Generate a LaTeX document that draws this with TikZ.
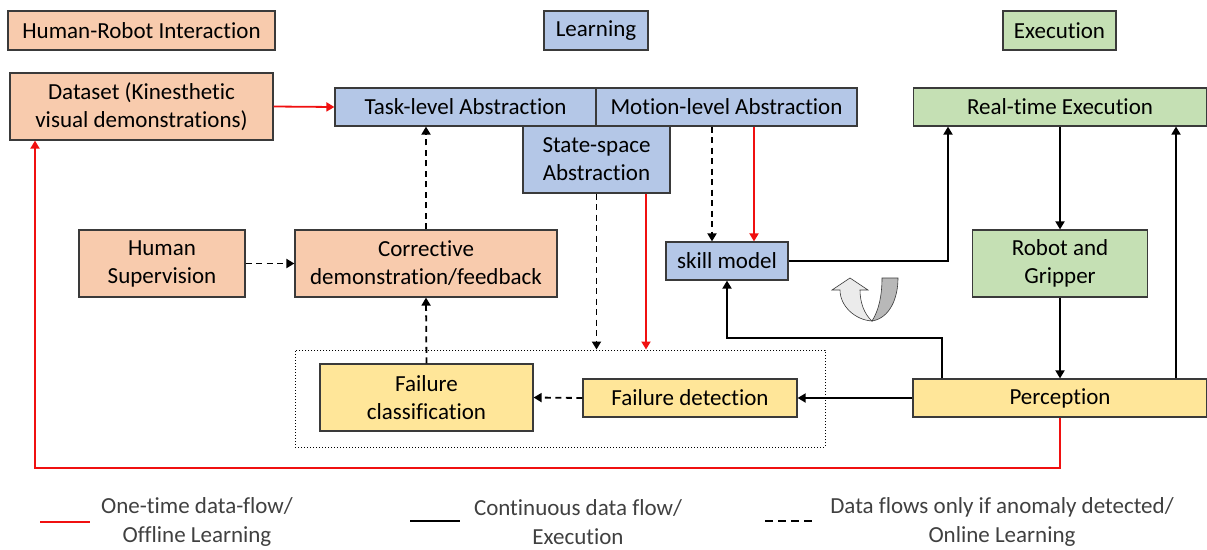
\documentclass[tikz,border=0pt]{standalone}
\usepackage{fontspec}
\setmainfont{Carlito}[Ligatures=NoCommon]
\usetikzlibrary{arrows.meta,calc}
\definecolor{peach}{HTML}{F8CBAD}
\definecolor{lblue}{HTML}{B4C7E7}
\definecolor{lgreen}{HTML}{C5E0B4}
\definecolor{lyellow}{HTML}{FFE699}
\definecolor{edge}{HTML}{3A3A3A}
\definecolor{flowred}{HTML}{F01010}
\definecolor{legendtxt}{HTML}{404040}
\begin{document}
\begin{tikzpicture}[x=1pt,y=-1pt,
  box/.style={draw=edge,line width=1.2pt,align=center,inner sep=0pt,
    font=\fontsize{23}{28}\selectfont,text=black},
  hri/.style={box,fill=peach},
  lrn/.style={box,fill=lblue},
  exe/.style={box,fill=lgreen},
  fail/.style={box,fill=lyellow},
  tip/.style={-{Triangle[length=8pt,width=9pt]}},
  offline/.style={tip,draw=flowred,line width=1.8pt},
  contin/.style={tip,draw=black,line width=1.8pt},
  online/.style={tip,draw=black,line width=1.8pt,dash pattern=on 6pt off 4.5pt},
  legtext/.style={align=center,font=\fontsize{23}{29}\selectfont,text=legendtxt}]
\useasboundingbox (0,0) rectangle (1207,549);

% section headers
\node[hri,minimum width=267pt,minimum height=39pt] (hdrH) at (141.5,30.5) {Human-Robot Interaction};
\node[lrn,minimum width=104pt,minimum height=39pt] (hdrL) at (596,30.5) {Learning};
\node[exe,minimum width=113pt,minimum height=39pt] (hdrE) at (1059.5,30.5) {Execution};

% dotted group around failure handling
\node[draw=black,line width=1pt,dotted,minimum width=530pt,minimum height=97pt] (grp) at (560,398.5) {};

% blocks
\node[hri,minimum width=263pt,minimum height=67pt] (data) at (141.5,106.5) {Dataset (Kinesthetic\\visual demonstrations)};
\node[lrn,minimum width=261pt,minimum height=38pt] (task) at (465.5,107) {Task-level Abstraction};
\node[lrn,minimum width=261pt,minimum height=38pt] (motion) at (726.5,107) {Motion-level Abstraction};
\node[lrn,minimum width=147pt,minimum height=67pt] (state) at (596.5,159.5) {State-space\\Abstraction};
\node[exe,minimum width=293pt,minimum height=38pt] (rte) at (1060,107) {Real-time Execution};
\node[hri,minimum width=166pt,minimum height=67pt] (hsup) at (162,263.5) {Human\\Supervision};
\node[hri,minimum width=262pt,minimum height=67pt] (corr) at (426,263.5) {Corrective\\demonstration/feedback};
\node[lrn,minimum width=122pt,minimum height=38pt] (skill) at (727,261) {skill model};
\node[exe,minimum width=175pt,minimum height=67pt] (robot) at (1060,263.5) {Robot and\\Gripper};
\node[fail,minimum width=294pt,minimum height=38pt] (perc) at (1060,398) {Perception};
\node[fail,minimum width=214pt,minimum height=38pt] (fdet) at (690,398) {Failure detection};
\node[fail,minimum width=213pt,minimum height=67pt] (fcls) at (426.5,397.5) {Failure\\classification};

% helper abscissae for vertical connectors
\coordinate (xsr) at (646,0);
\coordinate (xmd) at (712,0);
\coordinate (xmr) at (754,0);
\coordinate (xse) at (948,0);
\coordinate (xpr) at (1176,0);
\coordinate (fb) at (942,338);
\coordinate (lb) at (35,468);

% offline (one-time) flows
\draw[offline] (data.east) -- (task.west);
\draw[offline] (perc.south) |- (lb) -- (lb |- data.south);
\draw[offline] (xsr |- state.south) -- (xsr |- grp.north);
\draw[offline] (xmr |- motion.south) -- (xmr |- skill.north);

% online (anomaly-triggered) flows
\draw[online] (corr.north) -- (corr.north |- task.south);
\draw[online] (hsup.east) -- (corr.west);
\draw[online] (fcls.north) -- (corr.south);
\draw[online] (state.south) -- (state.south |- grp.north);
\draw[online] (xmd |- motion.south) -- (xmd |- skill.north);
\draw[online] (fdet.west) -- (fcls.east);

% continuous execution loop
\draw[contin] (skill.east) -| (xse |- rte.south);
\draw[contin] (rte.south) -- (robot.north);
\draw[contin] (robot.south) -- (perc.north);
\draw[contin] (xpr |- perc.north) -- (xpr |- rte.south);
\draw[contin] (fb |- perc.north) -- (fb) -| (skill.south);
\draw[contin] (perc.west) -- (fdet.east);

% U-turn loop icon
\draw[edge,line width=0.6pt,fill=black!8]
  (840,290) -- (832,290) -- (850,278) -- (868,290) -- (860,290)
  .. controls (860,302) and (864,314) .. (872,321)
  .. controls (855,320) and (840,306) .. cycle;
\draw[edge,line width=0.6pt,fill=black!28]
  (882,278) -- (898,278) .. controls (898,298) and (890,318) .. (872,321)
  .. controls (879,310) and (882,295) .. cycle;

% legend
\coordinate (l1a) at (40,522); \coordinate (l1b) at (90,522);
\coordinate (l2a) at (410,521); \coordinate (l2b) at (460,521);
\coordinate (l3a) at (765,521); \coordinate (l3b) at (815,521);
\draw[flowred,line width=2.5pt] (l1a) -- (l1b);
\draw[black,line width=2.5pt] (l2a) -- (l2b);
\draw[black,line width=2.5pt,dash pattern=on 8pt off 5pt] (l3a) -- (l3b);
\node[legtext] (leg1) at (197,522) {One-time data-flow/\\Offline Learning};
\node[legtext] (leg2) at (578,522) {Continuous data flow/\\Execution};
\node[legtext] (leg3) at (1002,522) {Data flows only if anomaly detected/\\Online Learning};
\end{tikzpicture}
\end{document}
